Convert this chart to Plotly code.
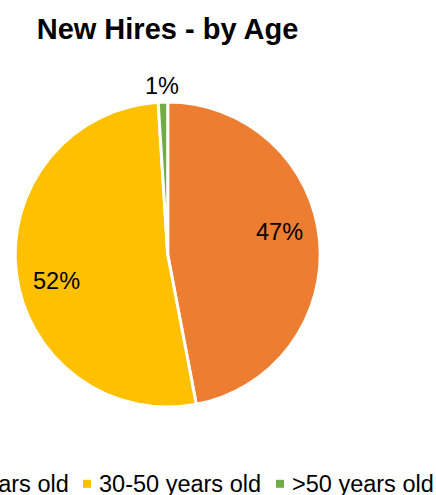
import math
import plotly.graph_objects as go

# ---- data ----
categories = ["<30 years old", "30-50 years old", ">50 years old"]
shares = [47, 52, 1]
colors = ["#ED7D31", "#FFC000", "#70AD47"]
title_text = "New Hires - by Age"

# ---- layout constants (pixels) ----
W, H = 436, 495
FONT = "Liberation Sans, Arial, sans-serif"
CX, CY, R = 167.7, 254.5, 152.5      # pie centre and radius
LABEL_SIZE = 23.5


def px(x):
    return x / W


def py(y):
    return 1 - y / H


fig = go.Figure(
    go.Pie(
        labels=categories,
        values=shares,
        sort=False,
        direction="clockwise",
        rotation=0,
        marker=dict(colors=colors, line=dict(color="white", width=3)),
        textinfo="none",
        hoverinfo="label+percent",
        showlegend=False,
        domain=dict(x=[px(CX - R), px(CX + R)], y=[py(CY + R), py(CY - R)]),
    )
)

# ---- percentage labels, placed along each slice ----
total = sum(shares)
start = 0.0
annotations = []
for v in shares:
    frac = v / total
    sweep = frac * 360
    mid = start + sweep / 2
    if frac < 0.05:
        ang, rr = mid, 1.107 * R          # small slice: label outside
    else:
        ang, rr = mid - 6, 0.75 * R       # large slice: label inside
    a = math.radians(ang)
    x = CX + rr * math.sin(a)
    y = CY - rr * math.cos(a)
    annotations.append(dict(
        x=px(x), y=py(y), xref="paper", yref="paper",
        text=f"{round(frac * 100)}%", showarrow=False,
        xanchor="center", yanchor="middle", borderpad=0,
        font=dict(family=FONT, size=LABEL_SIZE, color="black"),
    ))
    start += sweep

# ---- legend row along the bottom (first entry runs past the left edge) ----
legend_swatch_left = [-89, 83, 276]
SW = 8
LEG_Y = 483.8
shapes = []
for name, col, sx in zip(categories, colors, legend_swatch_left):
    shapes.append(dict(
        type="rect", xref="paper", yref="paper",
        x0=px(sx), x1=px(sx + SW), y0=py(LEG_Y + SW / 2), y1=py(LEG_Y - SW / 2),
        fillcolor=col, line=dict(width=0),
    ))
    annotations.append(dict(
        x=px(sx + 14.5), y=py(LEG_Y), xref="paper", yref="paper",
        text=name, showarrow=False, xanchor="left", yanchor="middle",
        borderpad=0, font=dict(family=FONT, size=LABEL_SIZE, color="black"),
    ))

fig.update_layout(
    width=W, height=H,
    margin=dict(l=0, r=0, t=0, b=0, autoexpand=False),
    paper_bgcolor="white", plot_bgcolor="white",
    title=dict(
        text=title_text, x=px(167.5), xanchor="center",
        y=py(28.8), yanchor="middle", yref="container",
        font=dict(family=FONT, size=29, color="black", weight="bold"),
    ),
    annotations=annotations,
    shapes=shapes,
    showlegend=False,
)

fig.write_html("out.html")
